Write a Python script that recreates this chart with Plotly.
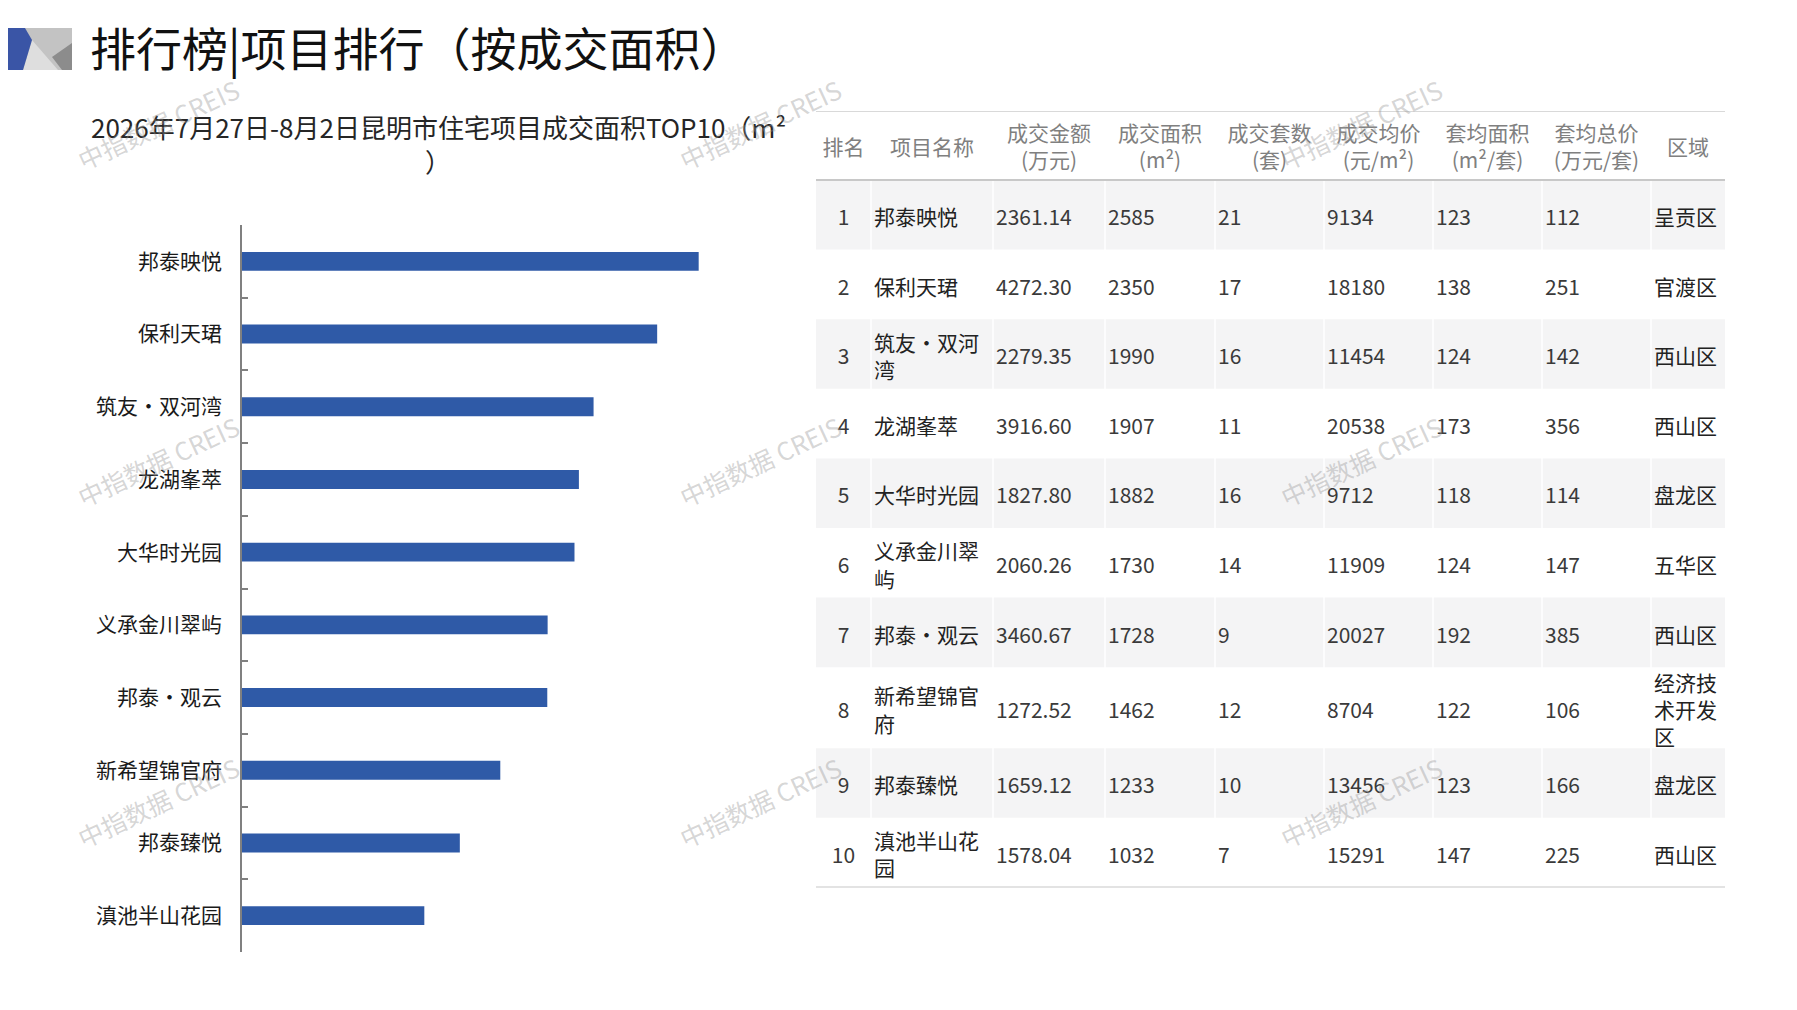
import plotly.graph_objects as go

# data
ranks = [1, 2, 3, 4, 5, 6, 7, 8, 9, 10]
names = ["邦泰映悦", "保利天珺", "筑友·双河湾", "龙湖峯萃", "大华时光园",
         "义承金川翠屿", "邦泰·观云", "新希望锦官府", "邦泰臻悦", "滇池半山花园"]
amount = [2361.14, 4272.30, 2279.35, 3916.60, 1827.80, 2060.26, 3460.67, 1272.52, 1659.12, 1578.04]
area = [2585, 2350, 1990, 1907, 1882, 1730, 1728, 1462, 1233, 1032]
units = [21, 17, 16, 11, 16, 14, 9, 12, 10, 7]
price = [9134, 18180, 11454, 20538, 9712, 11909, 20027, 8704, 13456, 15291]
avg_area = [123, 138, 124, 173, 118, 124, 192, 122, 123, 147]
avg_total = [112, 251, 142, 356, 114, 147, 385, 106, 166, 225]
district = ["呈贡区", "官渡区", "西山区", "西山区", "盘龙区",
            "五华区", "西山区", "经济技术开发区", "盘龙区", "西山区"]

headers = ["排名", "项目名称", "成交金额<br>(万元)", "成交面积<br>(m²)", "成交套数<br>(套)",
           "成交均价<br>(元/m²)", "套均面积<br>(m²/套)", "套均总价<br>(万元/套)", "区域"]

page_title = "排行榜|项目排行（按成交面积）"
chart_title = ["2026年7月27日-8月2日昆明市住宅项目成交面积TOP10（m²", "）"]
watermark = "中指数据 CREIS"

# page is drawn inside the browser's 8px body margin
OFF = 8
FW, FH = 1797 - 2 * OFF, 1010 - 2 * OFF
FONT = "Noto Sans CJK SC"
BLUE = "#2f5aa7"


def fx(p):
    return (p - OFF) / FW


def fy(p):
    return 1 - (p - OFF) / FH


def wrap(s, n):
    return "<br>".join(s[i:i + n] for i in range(0, len(s), n))


fig = go.Figure()

# ---- left: horizontal bar chart ----
fig.add_trace(go.Bar(
    x=area, y=names, orientation="h",
    marker=dict(color=BLUE, line=dict(width=0)),
    width=0.26, hoverinfo="skip",
))

# ---- right: table on its own hidden axes ----
col_w = [55, 122, 112, 110, 109, 109, 109, 109, 74]
col_align = ["center", "left", "left", "left", "left", "left", "left", "left", "left"]
col_left = [sum(col_w[:i]) for i in range(len(col_w))]
tbl_w = sum(col_w)
head_h = 69
pad = 3
text_dy = 5   # glyphs of the CJK font sit a little high

name_txt = [wrap(n, 5) for n in names]
dist_txt = [wrap(d, 3) for d in district]
n_lines = [max(a.count("<br>"), b.count("<br>")) + 1 for a, b in zip(name_txt, dist_txt)]
row_h = [max(69.6, 23 * k + 12) for k in n_lines]
row_top = [head_h + sum(row_h[:i]) for i in range(len(row_h))]
row_mid = [t + h / 2 + text_dy for t, h in zip(row_top, row_h)]
tbl_h = head_h + sum(row_h)

TX0, TY0 = 816, 111

columns = [
    [str(r) for r in ranks],
    name_txt,
    [f"{v:.2f}" for v in amount],
    [str(v) for v in area],
    [str(v) for v in units],
    [str(v) for v in price],
    [str(v) for v in avg_area],
    [str(v) for v in avg_total],
    dist_txt,
]

for j, vals in enumerate(columns):
    if col_align[j] == "center":
        xs, pos = col_left[j] + col_w[j] / 2, "middle center"
    else:
        xs, pos = col_left[j] + pad, "middle right"
    color = "#222222" if j in (1, 8) else "#3a3a3a"
    fig.add_trace(go.Scatter(
        x=[xs] * len(vals), y=row_mid, text=vals, mode="text",
        textposition=pos, xaxis="x2", yaxis="y2", hoverinfo="skip",
        textfont=dict(family=FONT, size=21, color=color),
    ))

fig.add_trace(go.Scatter(
    x=[l + w / 2 for l, w in zip(col_left, col_w)], y=[head_h / 2 + text_dy - 1] * len(headers),
    text=headers, mode="text", textposition="middle center",
    xaxis="x2", yaxis="y2", hoverinfo="skip",
    textfont=dict(family=FONT, size=21, color="#808080"),
))

for i, (t, h) in enumerate(zip(row_top, row_h)):
    if i % 2 == 0:
        fig.add_shape(type="rect", xref="x2", yref="y2", x0=0, x1=tbl_w, y0=t, y1=t + h,
                      fillcolor="#f4f4f5", line=dict(width=0), layer="below")
for l in col_left[1:]:
    fig.add_shape(type="line", xref="x2", yref="y2", x0=l, x1=l, y0=head_h, y1=tbl_h,
                  line=dict(color="white", width=1.5), layer="below")
for yy, c in ((0, "#d9d9d9"), (head_h, "#c8c8c8"), (tbl_h, "#c8c8c8")):
    fig.add_shape(type="line", xref="x2", yref="y2", x0=0, x1=tbl_w, y0=yy, y1=yy,
                  line=dict(color=c, width=2))

# ---- logo block ----
def poly(pts, color):
    path = "M " + " L ".join(f"{fx(a)},{fy(b)}" for a, b in pts) + " Z"
    fig.add_shape(type="path", path=path, xref="paper", yref="paper",
                  fillcolor=color, line=dict(width=0), layer="above")

poly([(23, 28), (72, 28), (72, 70), (23, 70)], "#c3c3c3")
poly([(32, 40), (23, 70), (58, 70)], "#dedede")
poly([(72, 43), (52, 57), (62, 70), (72, 70)], "#8c8c8c")
poly([(8, 28), (25, 28), (32, 40), (23, 70), (8, 70)], "#3a55a6")

fig.add_annotation(text=page_title, xref="paper", yref="paper",
                   x=fx(88), y=fy(46), xanchor="left", yanchor="middle",
                   showarrow=False, font=dict(family=FONT, size=46, color="#111111"))

for line, yy in zip(chart_title, (127, 160)):
    fig.add_annotation(text=line, xref="paper", yref="paper",
                       x=fx(438), y=fy(yy), xanchor="center", yanchor="middle",
                       showarrow=False, font=dict(family=FONT, size=26, color="#262626"))

# watermarks
for wx in (158, 760, 1361):
    for wy in (124, 461, 802):
        fig.add_annotation(text=watermark, xref="paper", yref="paper",
                           x=fx(wx), y=fy(wy), xanchor="center", yanchor="middle",
                           showarrow=False, textangle=-25,
                           font=dict(family=FONT, size=25, color="rgba(150,150,150,0.4)"))

fig.update_layout(
    width=FW, height=FH, autosize=False,
    margin=dict(l=0, r=0, t=0, b=0),
    paper_bgcolor="white", plot_bgcolor="white",
    showlegend=False,
    xaxis=dict(domain=[fx(242), fx(772)], range=[0, 3000], visible=False, fixedrange=True),
    yaxis=dict(
        domain=[fy(952), fy(225)],
        categoryorder="array", categoryarray=names, autorange="reversed",
        showline=True, linecolor="#808080", linewidth=1.5,
        ticks="inside", tickson="boundaries", ticklen=6, tickcolor="#808080", tickwidth=1.5,
        tickfont=dict(family=FONT, size=21, color="#1a1a1a"),
        ticklabelstandoff=14,
        showgrid=False, zeroline=False, fixedrange=True,
    ),
    xaxis2=dict(domain=[fx(TX0), fx(TX0 + tbl_w)], range=[0, tbl_w], anchor="y2",
                visible=False, fixedrange=True),
    yaxis2=dict(domain=[fy(TY0 + tbl_h), fy(TY0)], range=[tbl_h, 0], anchor="x2",
                visible=False, fixedrange=True),
)

fig.write_html("out.html")
